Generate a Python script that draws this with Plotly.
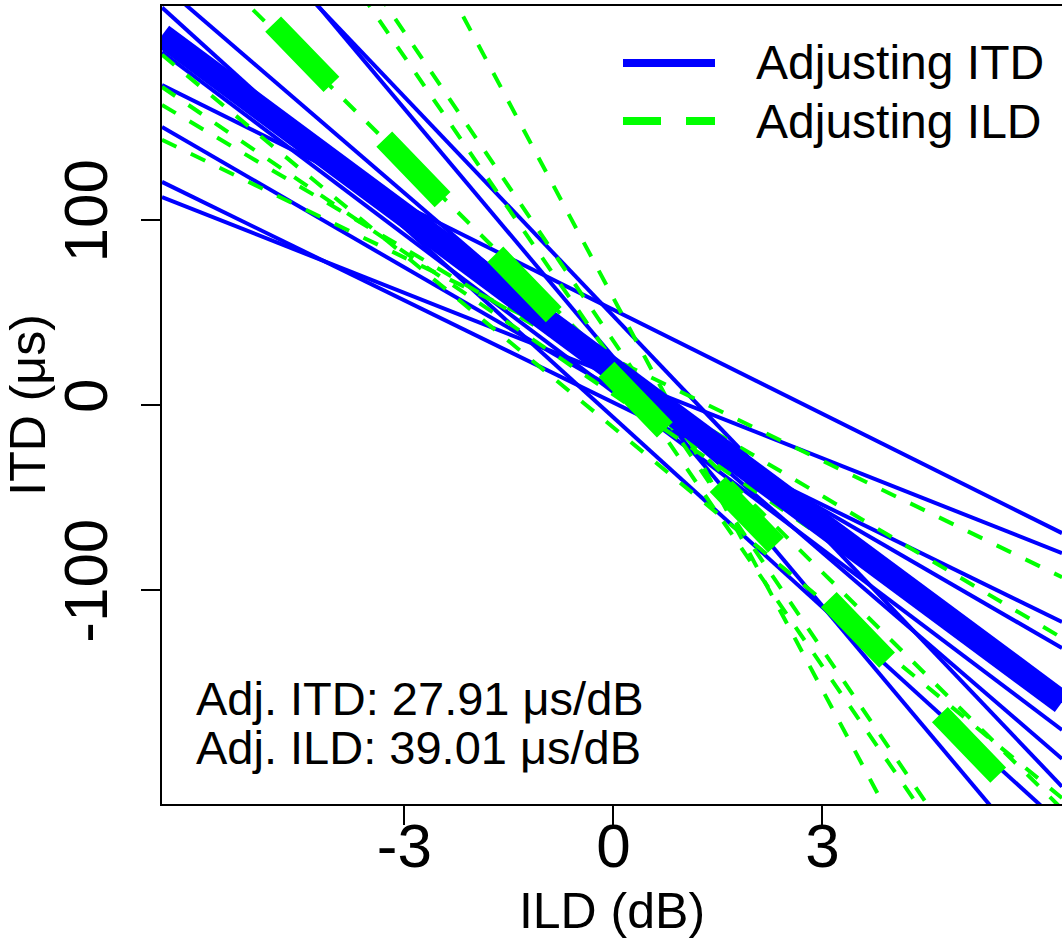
import plotly.graph_objects as go

# ---- data ----
x_range = [-6.48, 6.44]
y_range = [-215.7, 215.7]

# individual listener fits, adjusting ITD (slope µs/dB, intercept µs)
itd_slopes = [-18.75, -14.9, -18.41, -21.8, -28.37, -39.5, -44.8, -34.2, -32.4]
itd_intercepts = [51.5, 15.9, 1.3, 9.0, 7.0, 48.1, 25.8, -6.7, 17.4]

# individual listener fits, adjusting ILD
ild_slopes = [-31.1, -25.65, -22.3, -18.3, -37.2, -54.9, -55.6, -70.6]
ild_intercepts = [-12.2, 5.7, 17.7, 24.8, 21.2, 23.5, 34.6, 57.8]

# group fits
mean_itd = (-27.91, 19.0)
mean_ild = (-39.01, 15.4)

x_ticks = [-3, 0, 3]
y_ticks = [-100, 0, 100]

BLUE = "#0000ff"
GREEN = "#00ff00"
FONT = "Liberation Sans, Arial, sans-serif"

W, H = 1062, 947
ML, MR, MT, MB = 162, 0, 6, 143


def line_xy(slope, intercept):
    xs = list(x_range)
    return xs, [intercept + slope * x for x in xs]


fig = go.Figure()

for s, a in zip(itd_slopes, itd_intercepts):
    xs, ys = line_xy(s, a)
    fig.add_trace(go.Scatter(x=xs, y=ys, mode="lines", showlegend=False,
                             line=dict(color=BLUE, width=4), hoverinfo="skip"))

for s, a in zip(ild_slopes, ild_intercepts):
    xs, ys = line_xy(s, a)
    fig.add_trace(go.Scatter(x=xs, y=ys, mode="lines", showlegend=False,
                             line=dict(color=GREEN, width=4, dash="16px,16px"),
                             hoverinfo="skip"))

xs, ys = line_xy(*mean_itd)
fig.add_trace(go.Scatter(x=xs, y=ys, mode="lines", name="Adjusting ITD", showlegend=False,
                         line=dict(color=BLUE, width=24), hoverinfo="skip"))
xs, ys = line_xy(*mean_ild)
fig.add_trace(go.Scatter(x=xs, y=ys, mode="lines", name="Adjusting ILD", showlegend=False,
                         line=dict(color=GREEN, width=22, dash="84px,76px"),
                         hoverinfo="skip"))

PW = W - ML - MR
PH = H - MT - MB


def px_x(p):
    return (p - ML) / PW


def px_y(p):
    return (MT + PH - p) / PH


# manual legend (line samples + labels)
legend_items = [("Adjusting ITD", BLUE, "solid", 63), ("Adjusting ILD", GREEN, "38px,25px", 121)]
for label, col, dash, ypix in legend_items:
    fig.add_shape(type="line", xref="paper", yref="paper",
                  x0=px_x(623), x1=px_x(715), y0=px_y(ypix), y1=px_y(ypix),
                  line=dict(color=col, width=8, dash=dash))
    fig.add_annotation(text=label, xref="paper", yref="paper", x=px_x(754), y=px_y(ypix),
                       xanchor="left", yanchor="middle", showarrow=False,
                       font=dict(family=FONT, size=48, color="black"))

# slope annotations
notes = [("Adj. ITD: 27.91 \u03bcs/dB", 698), ("Adj. ILD: 39.01 \u03bcs/dB", 747)]
for txt, ypix in notes:
    fig.add_annotation(text=txt, xref="paper", yref="paper", x=px_x(194), y=px_y(ypix),
                       xanchor="left", yanchor="middle", showarrow=False,
                       font=dict(family=FONT, size=47, color="black"))

fig.update_layout(
    width=W, height=H,
    margin=dict(l=ML, r=MR, t=MT, b=MB, pad=0, autoexpand=False),
    paper_bgcolor="white", plot_bgcolor="white",
    font=dict(family=FONT, color="black"),
    showlegend=False,
    xaxis=dict(range=x_range, tickvals=x_ticks, ticktext=[str(v) for v in x_ticks],
               automargin=False,
               showgrid=False, zeroline=False, showline=True, linecolor="black", linewidth=2,
               mirror=True, ticks="outside", ticklen=19, tickwidth=1.5, tickcolor="black",
               ticklabelstandoff=-32,
               tickfont=dict(family=FONT, size=62),
               title=dict(text="ILD (dB)", font=dict(family=FONT, size=50), standoff=14)),
    yaxis=dict(range=y_range, tickvals=y_ticks, ticktext=[str(v) for v in y_ticks],
               automargin=False,
               showgrid=False, zeroline=False, showline=True, linecolor="black", linewidth=2,
               mirror=False, ticks="outside", ticklen=19, tickwidth=1.5, tickcolor="black",
               ticklabelstandoff=9,
               tickangle=-90, tickfont=dict(family=FONT, size=62),
               title=dict(text="ITD (\u03bcs)", font=dict(family=FONT, size=50), standoff=8)),
)

fig.write_html("out.html")
